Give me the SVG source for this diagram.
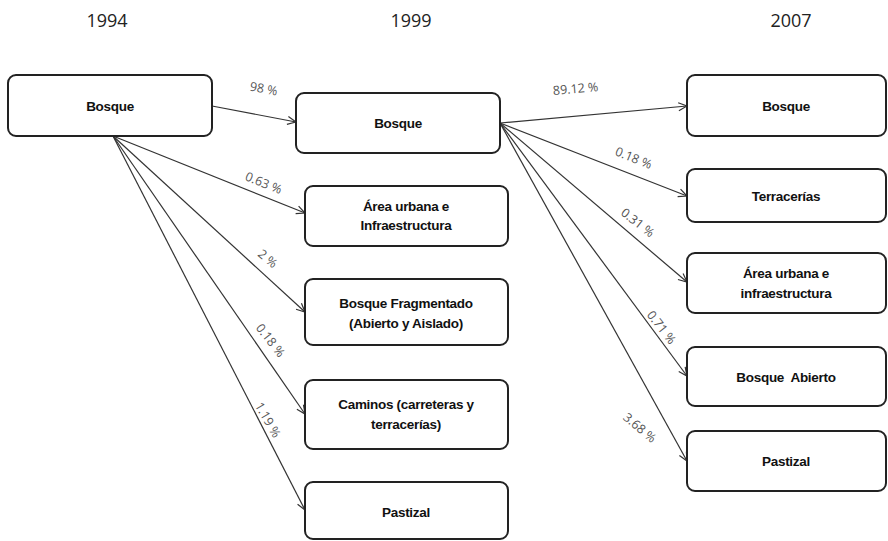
<svg xmlns="http://www.w3.org/2000/svg" width="888" height="541" viewBox="0 0 888 541">
<style>
.box{fill:#fff;stroke:#222;stroke-width:2}
.nt{font-family:"Liberation Sans",Arial,sans-serif;font-size:13.5px;font-weight:bold;fill:#111;text-anchor:middle;letter-spacing:-0.3px}
.yr{font-family:"Open Sans","Liberation Sans",sans-serif;font-size:18px;fill:#222;text-anchor:middle}
.lb{font-family:"Open Sans","Liberation Sans",sans-serif;font-size:12.5px;fill:#555;text-anchor:middle}
.ln{stroke:#333;stroke-width:1.2;fill:none;marker-end:url(#ah)}
</style>
<defs>
<marker id="ah" viewBox="0 0 10 10" refX="9.5" refY="5" markerWidth="10" markerHeight="10" markerUnits="userSpaceOnUse" orient="auto">
<path d="M1,1 L9.5,5 L1,9" fill="none" stroke="#333" stroke-width="1.2"/>
</marker>
</defs>
<rect width="888" height="541" fill="#fff"/>
<text class="yr" x="107" y="27">1994</text>
<text class="yr" x="411" y="27">1999</text>
<text class="yr" x="791" y="27">2007</text>
<g id="connectors">
<line class="ln" x1="212" y1="106" x2="296" y2="122"/>
<line class="ln" x1="113" y1="136" x2="305" y2="213"/>
<line class="ln" x1="113" y1="136" x2="305" y2="312"/>
<line class="ln" x1="113" y1="136" x2="305" y2="414"/>
<line class="ln" x1="113" y1="136" x2="305" y2="510"/>
<line class="ln" x1="500" y1="123" x2="687" y2="106"/>
<line class="ln" x1="500" y1="123" x2="687" y2="196"/>
<line class="ln" x1="500" y1="123" x2="687" y2="282"/>
<line class="ln" x1="500" y1="123" x2="687" y2="376"/>
<line class="ln" x1="500" y1="123" x2="687" y2="461"/>
<text class="lb" transform="translate(263,93) rotate(10)">98 %</text>
<text class="lb" transform="translate(262,187) rotate(22)">0.63 %</text>
<text class="lb" transform="translate(265,262) rotate(40)">2 %</text>
<text class="lb" transform="translate(267,343) rotate(52)">0.18 %</text>
<text class="lb" transform="translate(264,422) rotate(60)">1.19 %</text>
<text class="lb" transform="translate(576,93) rotate(-5)">89.12 %</text>
<text class="lb" transform="translate(632,162) rotate(22)">0.18 %</text>
<text class="lb" transform="translate(635,226) rotate(38)">0.31 %</text>
<text class="lb" transform="translate(658,330) rotate(52)">0.71 %</text>
<text class="lb" transform="translate(637,431) rotate(40)">3.68 %</text>
</g>
<g id="n94-bosque"><rect class="box" x="8" y="75" width="204" height="61" rx="8"/><text class="nt" x="110" y="111">Bosque</text></g>
<g id="n99-bosque"><rect class="box" x="296" y="93" width="204" height="60" rx="8"/><text class="nt" x="398" y="128">Bosque</text></g>
<g id="n99-urbana"><rect class="box" x="305" y="186" width="203" height="60" rx="8"/><text class="nt" x="406" y="211">Área urbana e</text><text class="nt" x="406" y="230">Infraestructura</text></g>
<g id="n99-frag"><rect class="box" x="305" y="279" width="203" height="66" rx="8"/><text class="nt" x="406" y="308">Bosque Fragmentado</text><text class="nt" x="406" y="328">(Abierto y Aislado)</text></g>
<g id="n99-caminos"><rect class="box" x="305" y="380" width="203" height="69" rx="8"/><text class="nt" x="406" y="409">Caminos (carreteras y</text><text class="nt" x="406" y="429">terracerías)</text></g>
<g id="n99-pastizal"><rect class="box" x="305" y="482" width="203" height="57" rx="8"/><text class="nt" x="406" y="517">Pastizal</text></g>
<g id="n07-bosque"><rect class="box" x="687" y="75" width="199" height="61" rx="8"/><text class="nt" x="786" y="111">Bosque</text></g>
<g id="n07-terr"><rect class="box" x="687" y="169" width="199" height="53" rx="8"/><text class="nt" x="786" y="201">Terracerías</text></g>
<g id="n07-urbana"><rect class="box" x="687" y="253" width="199" height="60" rx="8"/><text class="nt" x="786" y="278">Área urbana e</text><text class="nt" x="786" y="298">infraestructura</text></g>
<g id="n07-abierto"><rect class="box" x="687" y="347" width="199" height="59" rx="8"/><text class="nt" x="786" y="382" style="white-space:pre">Bosque  Abierto</text></g>
<g id="n07-pastizal"><rect class="box" x="687" y="431" width="199" height="60" rx="8"/><text class="nt" x="786" y="466">Pastizal</text></g>
</svg>
